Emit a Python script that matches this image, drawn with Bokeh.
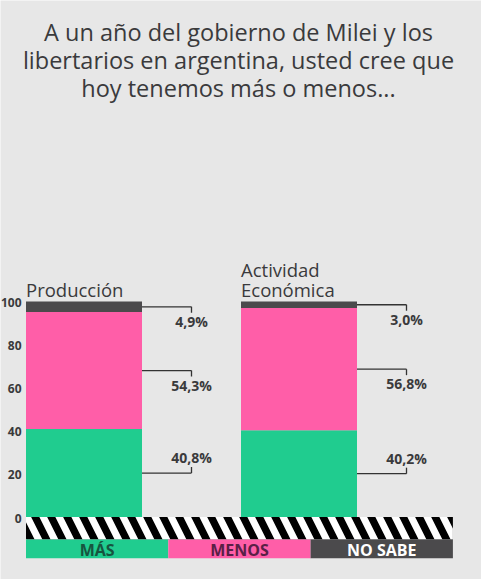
from bokeh.plotting import figure
from bokeh.models import ColumnDataSource, Range1d
from bokeh.core.properties import value
from bokeh.embed import file_html
from bokeh.resources import INLINE

# ---------------- data ----------------
categories = ["Producción", "Actividad\nEconómica"]
series = ["MÁS", "MENOS", "NO SABE"]
mas = [40.8, 40.2]
menos = [54.3, 56.8]
no_sabe = [4.9, 3.0]
y_ticks = [0, 20, 40, 60, 80, 100]
title_lines = [
    "A un año del gobierno de Milei y los",
    "libertarios en argentina, usted cree que",
    "hoy tenemos más o menos...",
]

colors = ["#20cc8f", "#ff5ea8", "#4b4a4c"]
legend_text_colors = ["#17543f", "#5a2046", "#ffffff"]
TEXT = "#3a3a3c"
BG = "#e7e7e7"

# ---------------- geometry (pixels -> data) ----------------
W, H = 481, 579
UX = 215.0           # pixels per category step
UY = 2.155           # pixels per percentage point
X0 = -83.5 / UX      # data x at left edge
Y1 = 100 + 301 / UY  # data y at top edge


def sx(px):
    return X0 + px / UX


def sy(py):
    return Y1 - py / UY


xs = list(range(len(categories)))
bw = 116 / UX

p = figure(width=W, height=H, output_backend="svg", toolbar_location=None,
           x_axis_type=None, y_axis_type=None, min_border=0,
           x_range=Range1d(X0, X0 + W / UX), y_range=Range1d(Y1 - H / UY, Y1))
p.grid.visible = False
p.outline_line_color = None
p.background_fill_color = BG
p.border_fill_color = BG

# stacked bars
src = ColumnDataSource(dict(x=xs, mas=mas, menos=menos, no_sabe=no_sabe))
p.vbar_stack(["mas", "menos", "no_sabe"], x="x", width=bw, source=src,
             color=colors, line_color=None)

# title
for i, t in enumerate(title_lines):
    p.text(x=[sx(238)], y=[sy(31 + 28 * i)], text=[t], text_align="center",
           text_baseline="alphabetic", text_font=value("Open Sans"),
           text_font_size="23.5px", text_color=TEXT)

# y tick labels
p.text(x=[sx(21)] * len(y_ticks), y=y_ticks, text=[str(t) for t in y_ticks],
       text_align="right", text_baseline="middle", text_font=value("Open Sans"),
       text_font_style="bold", text_font_size="12px", text_color=TEXT,
       y_offset=1)

# category labels
p.text(x=[x - bw / 2 for x in xs], y=[100] * len(xs), text=categories,
       text_align="left", text_baseline="bottom", text_font=value("Open Sans"),
       text_font_size="18.5px", text_color=TEXT, text_line_height=0.8)

# connectors + value labels
seg_x0, seg_x1, seg_y0, seg_y1 = [], [], [], []
lab_x, lab_y, lab_t, lab_off = [], [], [], []
tick = 6 / UY
for i, x in enumerate(xs):
    vals = [mas[i], menos[i], no_sabe[i]]
    base = 0
    for j, v in enumerate(vals):
        mid = base + v / 2
        base += v
        xe = x + 0.5
        seg_x0 += [x + bw / 2, xe]
        seg_x1 += [xe, xe]
        seg_y0 += [mid, mid]
        d = tick if j == 0 else -tick
        seg_y1 += [mid, mid + d]
        lab_x.append(xe)
        lab_y.append(mid)
        lab_t.append(f"{v:.1f}".replace(".", ",") + "%")
        lab_off.append(-15.5 if j == 0 else 14.5)

p.segment(x0=seg_x0, y0=seg_y0, x1=seg_x1, y1=seg_y1, line_color="#333333",
          line_width=1.3)
p.text(x=lab_x, y=lab_y, text=lab_t, y_offset=lab_off, text_align="center",
       text_baseline="middle", text_font=value("Open Sans"),
       text_font_style="bold", text_font_size="14px", text_color=TEXT)

# striped band + legend
band_left = xs[0] - bw / 2
item_w = 142.3 / UX
band_right = band_left + item_w * len(series)
stripe_h = 22.5 / UY
leg_h = 18.7 / UY
p.quad(left=[band_left], right=[band_right], bottom=[-stripe_h], top=[0],
       fill_color="black", line_color=None, hatch_pattern="\\",
       hatch_color="white", hatch_weight=7, hatch_scale=32)

lefts = [band_left + k * item_w for k in range(len(series))]
p.quad(left=lefts, right=[l + item_w for l in lefts],
       bottom=[-stripe_h - leg_h] * len(series), top=[-stripe_h] * len(series),
       fill_color=colors, line_color=None)
p.text(x=[l + item_w / 2 for l in lefts], y=[-stripe_h - leg_h / 2] * len(series),
       text=series, text_align="center", text_baseline="middle",
       text_font=value("Open Sans"), text_font_style="bold",
       text_font_size="16px", text_color=legend_text_colors, y_offset=1)

open("out.html", "w").write(file_html(p, INLINE))
